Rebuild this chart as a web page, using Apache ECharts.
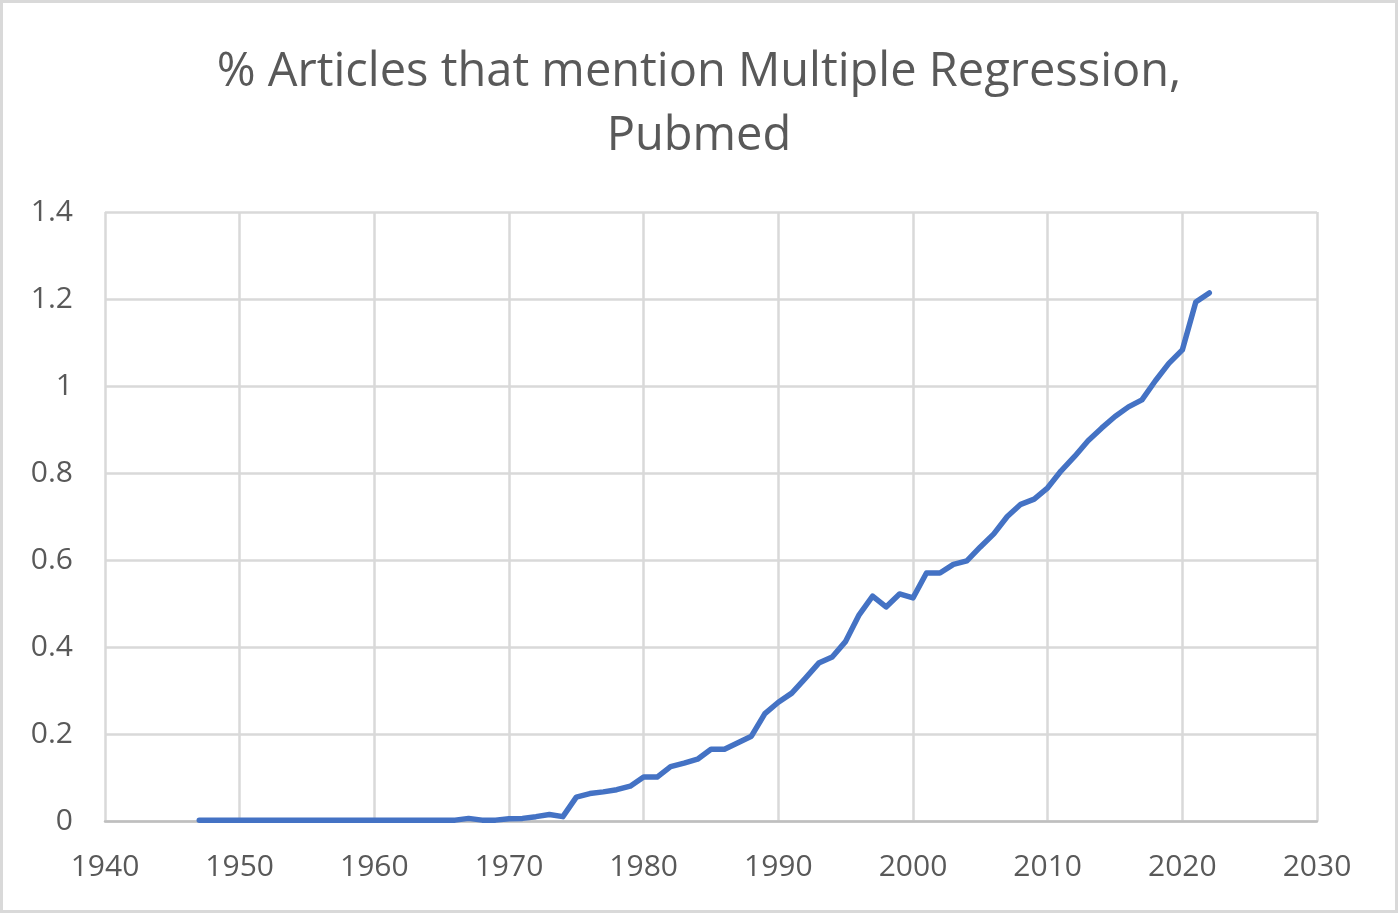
<!DOCTYPE html>
<html>
<head>
<meta charset="utf-8">
<title>% Articles that mention Multiple Regression, Pubmed</title>
<script src="https://cdn.jsdelivr.net/npm/echarts@6/dist/echarts.min.js"></script>
<style>
  html, body { margin: 0; padding: 0; background: #ffffff; }
  #chart { width: 1398px; height: 913px; }
</style>
</head>
<body>
<div id="chart"></div>
<script>
// years 1947..2022, one value per year (percent of articles)
const startYear = 1947;
const values = [
  0.002, 0.002, 0.002, 0.002, 0.002, 0.002, 0.002, 0.002, 0.002, 0.002, // 1947-1956
  0.002, 0.002, 0.002, 0.002, 0.002, 0.002, 0.002, 0.002, 0.002, 0.002, // 1957-1966
  0.006, 0.002, 0.002, 0.005, 0.006, 0.010, 0.015, 0.010,               // 1967-1974
  0.055, 0.063, 0.067, 0.072, 0.080,                                    // 1975-1979
  0.101, 0.101, 0.125, 0.133, 0.142, 0.165, 0.165, 0.180, 0.195, 0.247, // 1980-1989
  0.273, 0.294, 0.328, 0.363, 0.377, 0.413, 0.474, 0.517, 0.492, 0.522, // 1990-1999
  0.513, 0.570, 0.570, 0.590, 0.598, 0.630, 0.660, 0.700, 0.728, 0.740, // 2000-2009
  0.766, 0.805, 0.838, 0.874, 0.903, 0.930, 0.952, 0.968, 1.012, 1.052, // 2010-2019
  1.083, 1.193, 1.214                                                   // 2020-2022
];
const years = values.map((_, i) => startYear + i);

const xTicks = { min: 1940, max: 2030, interval: 10 };
const yTicks = { min: 0, max: 1.4, interval: 0.2 };

const textColor = '#595959';
const gridColor = '#d9d9d9';
const fontFamily = '"Open Sans", Lato, sans-serif';

const chart = echarts.init(document.getElementById('chart'));

chart.setOption({
  backgroundColor: '#ffffff',
  animation: false,
  title: {
    text: '% Articles that mention Multiple Regression,\nPubmed',
    left: 'center',
    top: 36,
    textStyle: {
      color: textColor,
      fontFamily,
      fontWeight: 'normal',
      fontSize: 47,
      lineHeight: 64,
      align: 'center'
    }
  },
  graphic: [{
    type: 'rect',
    shape: { x: 1.5, y: 1.5, width: 1395, height: 910 },
    style: { fill: 'none', stroke: gridColor, lineWidth: 3 },
    silent: true
  }],
  grid: { left: 105, right: 81, top: 212, bottom: 92 },
  xAxis: {
    type: 'value',
    min: xTicks.min,
    max: xTicks.max,
    interval: xTicks.interval,
    axisLine: { show: true, onZero: false, lineStyle: { color: '#bfbfbf', width: 2.5 } },
    axisTick: { show: false },
    axisLabel: {
      color: textColor, fontFamily, fontSize: 30, margin: 31,
      formatter: (v) => String(v)
    },
    splitLine: { show: true, lineStyle: { color: gridColor, width: 2.5 } }
  },
  yAxis: {
    type: 'value',
    min: yTicks.min,
    max: yTicks.max,
    interval: yTicks.interval,
    axisLine: { show: false },
    axisTick: { show: false },
    axisLabel: {
      color: textColor, fontFamily, fontSize: 30, margin: 32,
      formatter: (v) => String(Math.round(v * 10) / 10)
    },
    splitLine: { show: true, lineStyle: { color: gridColor, width: 2.5 } }
  },
  series: [{
    type: 'line',
    data: years.map((y, i) => [y, values[i]]),
    showSymbol: false,
    symbol: 'none',
    lineStyle: { color: '#4472c4', width: 5.5, join: 'round', cap: 'round' },
    z: 5
  }]
});
</script>
</body>
</html>
